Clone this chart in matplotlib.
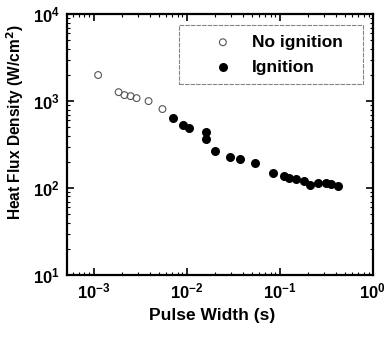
import numpy as np
import matplotlib
matplotlib.use("Agg")
import matplotlib.pyplot as plt
from matplotlib.ticker import LogLocator, NullFormatter

plt.rcParams['font.family'] = ['Liberation Sans', 'DejaVu Sans']
plt.rcParams['font.weight'] = 'bold'
plt.rcParams['mathtext.default'] = 'bf'

# no ignition (open circles)
no_ign_x = [1.12e-3, 1.86e-3, 2.15e-3, 2.5e-3, 2.9e-3, 3.9e-3, 5.5e-3]
no_ign_y = [1995, 1267, 1172, 1141, 1082, 1000, 810]

# ignition (filled circles)
ign_x = [7.07e-3, 9.05e-3, 1.05e-2, 1.6e-2, 1.6e-2, 2.0e-2, 2.9e-2, 3.71e-2,
         5.38e-2, 8.4e-2, 0.110, 0.125, 0.149, 0.181, 0.210, 0.257, 0.313,
         0.353, 0.421]
ign_y = [638, 530, 490, 441, 366, 266, 227, 215, 196, 149, 137, 132, 127,
         119, 108, 114, 114, 111, 105]

fig = plt.figure(figsize=(3.9, 3.37), dpi=100)
ax = fig.add_axes([0.172, 0.184, 0.784, 0.774])

ax.scatter(no_ign_x, no_ign_y, s=24, facecolors='none', edgecolors='#555555',
           linewidths=0.8, label='No ignition', zorder=3)
ax.scatter(ign_x, ign_y, s=30, c='black', edgecolors='black',
           label='Ignition', zorder=3)

ax.set_xscale('log')
ax.set_yscale('log')
ax.set_xlim(5.2e-4, 1.0)
ax.set_ylim(10, 1e4)

ax.xaxis.set_major_locator(LogLocator(base=10, numticks=10))
ax.xaxis.set_minor_locator(LogLocator(base=10, subs=np.arange(2, 10), numticks=10))
ax.yaxis.set_minor_locator(LogLocator(base=10, subs=np.arange(2, 10), numticks=10))
ax.xaxis.set_minor_formatter(NullFormatter())
ax.yaxis.set_minor_formatter(NullFormatter())

ax.tick_params(which='both', direction='in', top=True, right=True, labelsize=12)
ax.tick_params(which='major', length=5, width=1.2, pad=5)
ax.tick_params(which='minor', length=2.5, width=0.8)
for sp in ax.spines.values():
    sp.set_linewidth(1.6)

ax.set_xlabel('Pulse Width (s)', fontsize=12.5, fontweight='bold')
ax.set_ylabel('Heat Flux Density (W/cm$^2$)', fontsize=11.2, fontweight='bold')
ax.xaxis.set_label_coords(0.474, -0.125)
ax.yaxis.set_label_coords(-0.135, 0.586)

leg = ax.legend(loc='upper left', bbox_to_anchor=(0.366, 0.724, 0.601, 0.234),
                mode='expand', frameon=True, fancybox=False, edgecolor='#666666',
                handletextpad=-0.3, borderpad=0.55, handlelength=3.95,
                labelspacing=0.55, borderaxespad=0,
                prop={'weight': 'bold', 'size': 12.5})
leg.get_frame().set_linewidth(0.8)
leg.get_frame().set_linestyle((0, (4, 1)))

fig.savefig('out.png', dpi=100)
